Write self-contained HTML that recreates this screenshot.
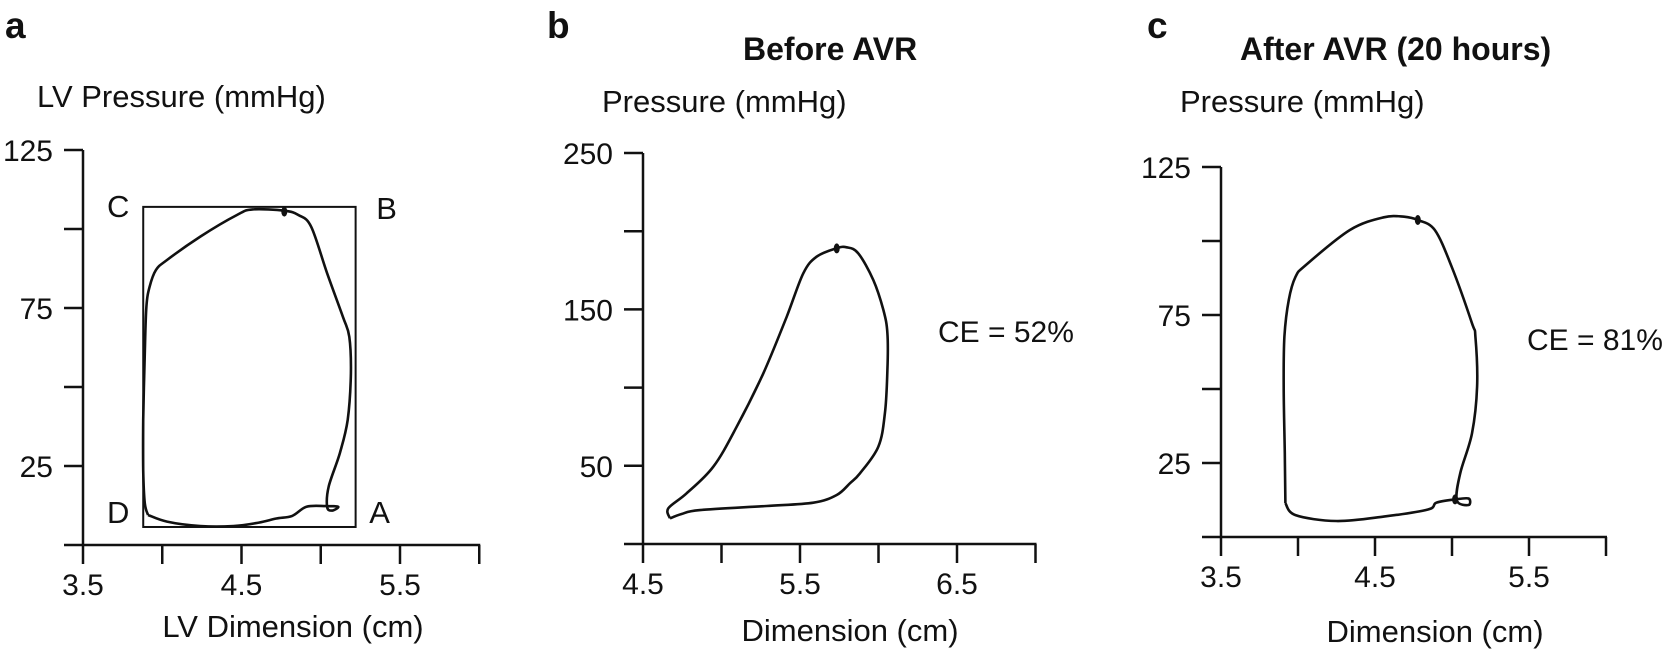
<!DOCTYPE html>
<html><head><meta charset="utf-8"><style>
html,body{margin:0;padding:0;background:#fff;}
svg{display:block;font-family:"Liberation Sans",Arial,sans-serif;}
</style></head><body>
<svg id="fig" width="1679" height="650" viewBox="0 0 1679 650" xmlns="http://www.w3.org/2000/svg">
<g fill="#111">
<text x="5" y="38" font-size="37" font-weight="bold">a</text>
<text x="547" y="38" font-size="37" font-weight="bold">b</text>
<text x="1147" y="38" font-size="37" font-weight="bold">c</text>
<text x="743" y="60" font-size="32" font-weight="bold">Before AVR</text>
<text x="1240" y="60" font-size="32" font-weight="bold">After AVR (20 hours)</text>
<text x="37" y="107" font-size="31">LV Pressure (mmHg)</text>
<text x="602" y="112" font-size="31">Pressure (mmHg)</text>
<text x="1180" y="112" font-size="31">Pressure (mmHg)</text>
<text x="293" y="637" font-size="31" text-anchor="middle">LV Dimension (cm)</text>
<text x="850" y="641" font-size="31" text-anchor="middle">Dimension (cm)</text>
<text x="1435" y="642" font-size="31" text-anchor="middle">Dimension (cm)</text>
<text x="938" y="342" font-size="30">CE = 52%</text>
<text x="1527" y="350" font-size="30">CE = 81%</text>
</g>
<g id="plots"></g>
</svg>
<script>
// Panel a data
const aXTicks = [3.5, 4.0, 4.5, 5.0, 5.5, 6.0];
const aXLabels = ["3.5", "", "4.5", "", "5.5", ""];
const aYTicks = [125, 100, 75, 50, 25];
const aYLabels = ["125", "", "75", "", "25"];
const aDim = [3.91,4.03,4.24,4.45,4.61,4.72,4.82,4.91,5.03,5.11,5.07,5.04,5.05,5.12,5.17,5.19,5.18,5.14,5.04,4.94,4.86,4.77,4.57,4.47,4.24,4.03,3.96,3.92,3.90,3.89,3.88,3.88,3.89,3.91];
const aPress = [9.5,7.4,6.0,6.0,7.1,8.4,9.2,12.1,12.3,12.1,10.9,12.1,18.5,29.0,39.6,54.3,65.9,72.2,86.0,100.7,104.4,105.8,106.2,104.4,97.6,90.2,87.0,81.7,75.4,60.7,39.6,23.7,13.2,9.5];
const aDot = [4.77, 105.5];
const aBox = [3.88, 5.22, 5.7, 107];

// Panel b data
const bXTicks = [4.5, 5.0, 5.5, 6.0, 6.5, 7.0];
const bXLabels = ["4.5", "", "5.5", "", "6.5", ""];
const bYTicks = [250, 200, 150, 100, 50];
const bYLabels = ["250", "", "150", "", "50"];
const bDim = [4.672,4.661,4.778,4.948,5.097,5.266,5.415,5.521,5.606,5.734,5.797,5.871,5.967,6.031,6.057,6.057,6.041,5.999,5.882,5.818,5.734,5.585,5.288,4.863,4.746,4.672];
const bPress = [16.4,22.8,32.4,49.4,75.0,109.1,145.3,173.1,183.7,189.1,189.7,185.9,168.8,149.6,134.7,111.3,83.6,62.2,45.2,38.8,31.3,26.4,24.3,21.7,19.2,16.4];
const bDot = [5.734, 189];

// Panel c data
const cXTicks = [3.5, 4.0, 4.5, 5.0, 5.5, 6.0];
const cXLabels = ["3.5", "", "4.5", "", "5.5", ""];
const cYTicks = [125, 100, 75, 50, 25];
const cYLabels = ["125", "", "75", "", "25"];
const cDim = [3.918,3.984,4.249,4.557,4.844,4.899,5.020,5.108,5.108,5.031,5.053,5.130,5.163,5.152,5.130,4.998,4.888,4.778,4.689,4.557,4.337,4.051,3.984,3.940,3.912,3.907,3.914,3.918];
const cPress = [11.4,7.4,5.4,6.9,9.3,11.6,12.7,13.0,10.8,12.4,21.5,35.0,50.8,67.7,72.2,91.3,103.7,107.1,108.2,108.0,103.7,91.9,87.9,80.1,67.7,50.8,28.3,11.4];
const cDot = [4.778, 107.1];
const cEndDot = [5.02, 12.7];

const NS = "http://www.w3.org/2000/svg";
const root = document.getElementById("plots");
function mk(tag, attrs, parent) {
  const e = document.createElementNS(NS, tag);
  for (const k in attrs) e.setAttribute(k, attrs[k]);
  parent.appendChild(e);
  return e;
}
function smoothPath(pts) {
  let d = "M" + pts[0][0].toFixed(1) + " " + pts[0][1].toFixed(1);
  for (let i = 0; i < pts.length - 1; i++) {
    const p0 = pts[Math.max(0, i - 1)], p1 = pts[i], p2 = pts[i + 1], p3 = pts[Math.min(pts.length - 1, i + 2)];
    const t = 1 / 6;
    const c1x = p1[0] + (p2[0] - p0[0]) * t, c1y = p1[1] + (p2[1] - p0[1]) * t;
    const c2x = p2[0] - (p3[0] - p1[0]) * t, c2y = p2[1] - (p3[1] - p1[1]) * t;
    d += " C" + c1x.toFixed(1) + " " + c1y.toFixed(1) + " " + c2x.toFixed(1) + " " + c2y.toFixed(1) + " " + p2[0].toFixed(1) + " " + p2[1].toFixed(1);
  }
  return d;
}

function panel(id, cfg, xt, xl, yt, yl, xs, ys) {
  const g = mk("g", {}, root);
  
  
  const sx = v => cfg.x0 + (v - cfg.xmin) * cfg.pxPerX;
  const sy = v => cfg.y0 - v * cfg.pxPerY;
  const yTop = sy(yt[0]);
  const ya = mk("line", {x1: cfg.x0, x2: cfg.x0, y1: yTop, y2: cfg.y0, stroke: "#111", "stroke-width": 2.5}, g);
  
  
  yt.forEach((v, i) => {
    const t = mk("line", {x1: cfg.x0 - 19, x2: cfg.x0, y1: sy(v), y2: sy(v), stroke: "#111", "stroke-width": 2.5}, g);
    
    
    if (yl[i]) {
      const tx = mk("text", {x: cfg.x0 - 30, y: sy(v) + 11, "font-size": 30, "text-anchor": "end", fill: "#111"}, g);
      tx.textContent = yl[i];
      
      
    }
  });
  const xa = mk("line", {x1: cfg.x0 - 19, x2: sx(xt[xt.length - 1]) + 1, y1: cfg.y0, y2: cfg.y0, stroke: "#111", "stroke-width": 2.5}, g);
  
  
  xt.forEach((v, i) => {
    const t = mk("line", {x1: sx(v), x2: sx(v), y1: cfg.y0, y2: cfg.y0 + 19, stroke: "#111", "stroke-width": 2.5}, g);
    
    
    if (xl[i]) {
      const tx = mk("text", {x: sx(v), y: cfg.y0 + 50, "font-size": 30, "text-anchor": "middle", fill: "#111"}, g);
      tx.textContent = xl[i];
      
      
    }
  });
  const pts = xs.map((v, i) => [sx(v), sy(ys[i])]);
  const p = mk("path", {d: smoothPath(pts), fill: "none", stroke: "#111", "stroke-width": 2.6, "stroke-linejoin": "round"}, g);
  
  
  return {g, sx, sy};
}

const A = panel("panel-a", {x0: 83, y0: 545, xmin: 3.5, pxPerX: 158.5, pxPerY: 3.16}, aXTicks, aXLabels, aYTicks, aYLabels, aDim, aPress);
const box = mk("rect", {x: A.sx(aBox[0]), y: A.sy(aBox[3]), width: A.sx(aBox[1]) - A.sx(aBox[0]), height: A.sy(aBox[2]) - A.sy(aBox[3]), fill: "none", stroke: "#111", "stroke-width": 2}, A.g);


const corners = [["C", aBox[0], aBox[3], -25, 10], ["B", aBox[1], aBox[3], 31, 12], ["D", aBox[0], aBox[2], -25, -4], ["A", aBox[1], aBox[2], 24, -4]];
corners.forEach(c => {
  const t = mk("text", {x: A.sx(c[1]) + c[3], y: A.sy(c[2]) + c[4], "font-size": 31, "text-anchor": "middle", fill: "#111"}, A.g);
  t.textContent = c[0];
  
  
});
const ad = mk("ellipse", {cx: A.sx(aDot[0]), cy: A.sy(aDot[1]), rx: 3, ry: 5, fill: "#111"}, A.g);



const B = panel("panel-b", {x0: 643, y0: 544, xmin: 4.5, pxPerX: 157, pxPerY: 1.564}, bXTicks, bXLabels, bYTicks, bYLabels, bDim, bPress);
const bd = mk("ellipse", {cx: B.sx(bDot[0]), cy: B.sy(bDot[1]), rx: 3, ry: 5, fill: "#111"}, B.g);



const C = panel("panel-c", {x0: 1221, y0: 537, xmin: 3.5, pxPerX: 154, pxPerY: 2.96}, cXTicks, cXLabels, cYTicks, cYLabels, cDim, cPress);
const cd = mk("ellipse", {cx: C.sx(cDot[0]), cy: C.sy(cDot[1]), rx: 3, ry: 5, fill: "#111"}, C.g);


const ce = mk("ellipse", {cx: C.sx(cEndDot[0]), cy: C.sy(cEndDot[1]), rx: 3, ry: 5, fill: "#111"}, C.g);


</script>
</body></html>
